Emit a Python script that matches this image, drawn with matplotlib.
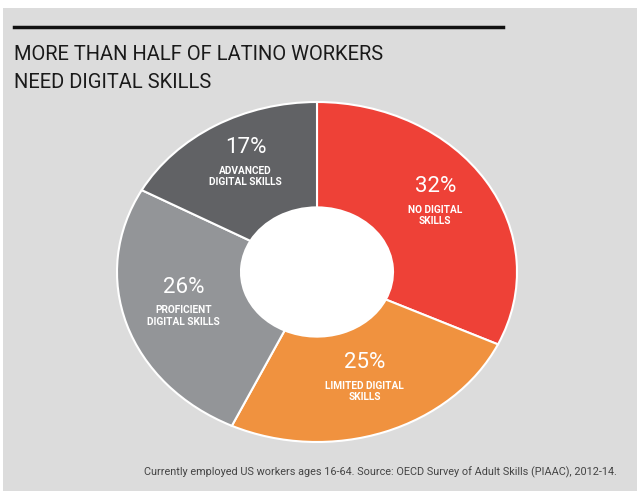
import numpy as np
import matplotlib.pyplot as plt
from matplotlib.patches import Rectangle, Circle
from matplotlib.transforms import offset_copy

# data
shares = [32, 25, 26, 17]
labels = ["NO DIGITAL\nSKILLS", "LIMITED DIGITAL\nSKILLS",
          "PROFICIENT\nDIGITAL SKILLS", "ADVANCED\nDIGITAL SKILLS"]
colors = ["#ee4137", "#f0923f", "#939598", "#616265"]

W, H = 637, 491
fig = plt.figure(figsize=(W / 100, H / 100), dpi=100, facecolor="white")

# grey panel behind everything
fig.patches.append(Rectangle((3 / W, 0), 1, 1 - 8 / H, transform=fig.transFigure,
                             facecolor="#dcdcdc", edgecolor="none", zorder=-5))

# black rule and title
fig.add_artist(plt.Line2D([14 / W, 503 / W], [1 - 27 / H, 1 - 27 / H],
                          transform=fig.transFigure, color="#111111", lw=2.5))
title_font = ["Roboto", "DejaVu Sans"]
fig.text(14 / W, 1 - 55 / H, "MORE THAN HALF OF LATINO WORKERS", family=title_font,
         fontsize=14.5, color="#1a1a1a", va="center", ha="left")
fig.text(14 / W, 1 - 82 / H, "NEED DIGITAL SKILLS", family=title_font,
         fontsize=14.5, color="#1a1a1a", va="center", ha="left")

# the doughnut, stretched into an ellipse
ax = fig.add_axes([117 / W, 1 - 442 / H, 400 / W, 340 / H])
ax.patch.set_visible(False)
wedges, _ = ax.pie(shares, colors=colors, startangle=90, counterclock=False,
                   radius=1, wedgeprops=dict(width=0.62, edgecolor="white", linewidth=1.5))
ax.add_patch(Circle((0, 0), 0.38, facecolor="white", edgecolor="none"))
ax.set_aspect("auto")
ax.set_xlim(-1, 1)
ax.set_ylim(-1, 1)
ax.axis("off")

pct_t = offset_copy(ax.transData, fig=fig, x=0, y=8, units="points")
for w, share, lab in zip(wedges, shares, labels):
    mid = np.deg2rad((w.theta1 + w.theta2) / 2)
    x, y = 0.7 * np.cos(mid), 0.7 * np.sin(mid)
    ax.text(x, y, f"{share}%", transform=pct_t, ha="center", va="bottom",
            fontsize=16, color="white", family="Roboto")
    ax.text(x, y + 0.02, lab, ha="center", va="top", fontsize=7.3, color="white",
            fontweight="bold", family="Roboto", linespacing=1.15)

fig.text(617 / W, 1 - 472 / H,
         "Currently employed US workers ages 16-64. Source: OECD Survey of Adult Skills (PIAAC), 2012-14.",
         family=title_font, fontsize=7.8, color="#444444", ha="right", va="center")

fig.savefig("out.png", dpi=100, facecolor=fig.get_facecolor())
